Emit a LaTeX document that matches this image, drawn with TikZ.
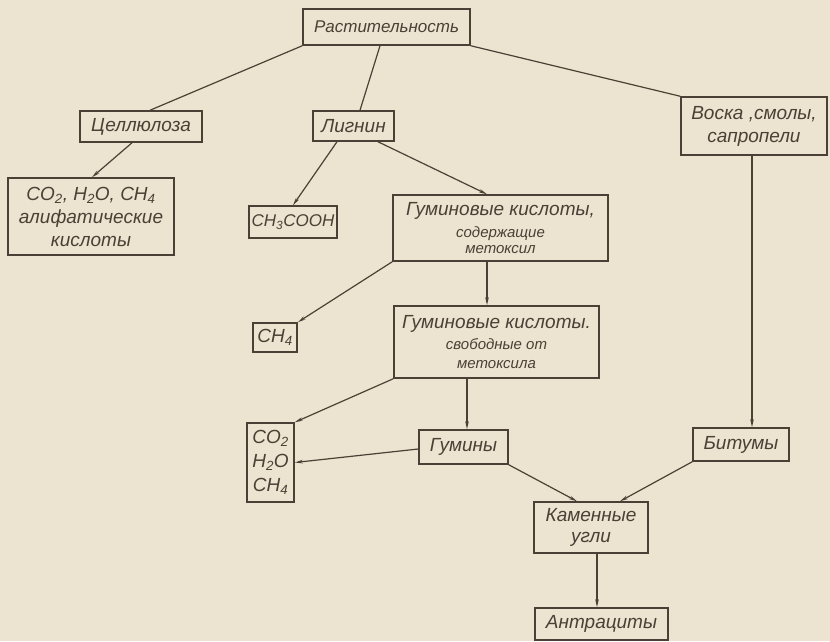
\documentclass[tikz,border=0pt]{standalone}
\usepackage{fontspec}
\setmainfont{Liberation Sans}
\usetikzlibrary{arrows.meta}
\definecolor{paper}{HTML}{ECE4D0}
\definecolor{ink}{HTML}{4A4036}
\newcommand{\mainfnt}{\fontsize{19}{23}\selectfont\itshape}
\newcommand{\smfnt}{\fontsize{15}{17}\selectfont\itshape}
\newcommand{\narrowfnt}{\fontsize{17}{21}\selectfont\itshape}
\tikzset{
  box/.style={draw=ink, line width=1.5pt, text=ink, font=\mainfnt, inner sep=0pt, align=center},
  conn/.style={draw=ink, line width=1.2pt},
  arr/.style={conn, -{Stealth[length=8pt,width=3.5pt]}}
}
\begin{document}
\begin{tikzpicture}[x=1pt, y=-1pt]
\fill[paper] (0,0) rectangle (830,641);
\useasboundingbox (0,0) rectangle (830,641);

\node[box, font=\narrowfnt, minimum width=167pt, minimum height=36pt] (rast) at (386.5,27) {Растительность};
\node[box, minimum width=122pt, minimum height=31pt] (cell) at (141,126.5) {Целлюлоза};
\node[box, minimum width=81pt, minimum height=30pt] (lign) at (353.5,126) {Лигнин};
\node[box, minimum width=146pt, minimum height=58pt] (wax) at (754,126) {Воска ,смолы,\\сапропели};
\node[box, minimum width=166pt, minimum height=77pt] (aliph) at (91,216.5) {CO\textsubscript{2}, H\textsubscript{2}O, CH\textsubscript{4}\\алифатические\\кислоты};
\node[box, font=\narrowfnt, minimum width=88pt, minimum height=32pt] (acet) at (293,222) {CH\textsubscript{3}COOH};
\node[box, minimum width=215pt, minimum height=66pt] (hum1) at (500.5,228) {Гуминовые кислоты,\\[-1pt]{\smfnt содержащие}\\[-7pt]{\smfnt метоксил}};
\node[box, minimum width=44pt, minimum height=29pt] (ch4) at (275,337.5) {CH\textsubscript{4}};
\node[box, minimum width=205pt, minimum height=72pt] (hum2) at (496.5,342) {Гуминовые кислоты.\\[-2pt]{\smfnt свободные от}\\[-4pt]{\smfnt метоксила}};
\node[box, minimum width=47pt, minimum height=79pt] (gas) at (270.5,462.5) {CO\textsubscript{2}\\[1pt]H\textsubscript{2}O\\[1pt]CH\textsubscript{4}};
\node[box, minimum width=89pt, minimum height=34pt] (humin) at (463.5,447) {Гумины};
\node[box, minimum width=96pt, minimum height=33pt] (bit) at (741,444.5) {Битумы};
\node[box, minimum width=114pt, minimum height=51pt] (coal) at (591,527.5) {Каменные\\[-2pt]угли};
\node[box, minimum width=133pt, minimum height=32pt] (anth) at (601.5,624) {Антрациты};

% links without arrowheads
\draw[conn] (rast.south west) -- ([xshift=9pt]cell.north);
\draw[conn] ([xshift=-6.5pt]rast.south) -- ([xshift=6.5pt]lign.north);
\draw[conn] (rast.south east) -- (wax.north west);

% arrows
\draw[arr] ([xshift=-9pt]cell.south) -- ([xshift=1pt]aliph.north);
\draw[arr] ([xshift=-16.5pt]lign.south) -- (acet.north);
\draw[arr] ([xshift=24.5pt]lign.south) -- ([xshift=-13.5pt]hum1.north);
\draw[arr] (hum1.south west) -- (ch4.north east);
\draw[arr] ([xshift=-13.5pt]hum1.south) -- ([xshift=-9.5pt]hum2.north);
\draw[arr] (hum2.south west) -- (gas.north east);
\draw[arr] ([xshift=-29.5pt]hum2.south) -- ([xshift=3.5pt]humin.north);
\draw[arr] ([yshift=-2pt]humin.west) -- (gas.east);
\draw[arr] (humin.south east) -- ([xshift=-14pt]coal.north);
\draw[arr] ([xshift=-2pt]wax.south) -- ([xshift=11pt]bit.north);
\draw[arr] (bit.south west) -- ([xshift=29pt]coal.north);
\draw[arr] ([xshift=6pt]coal.south) -- ([xshift=-4.5pt]anth.north);
\end{tikzpicture}
\end{document}
